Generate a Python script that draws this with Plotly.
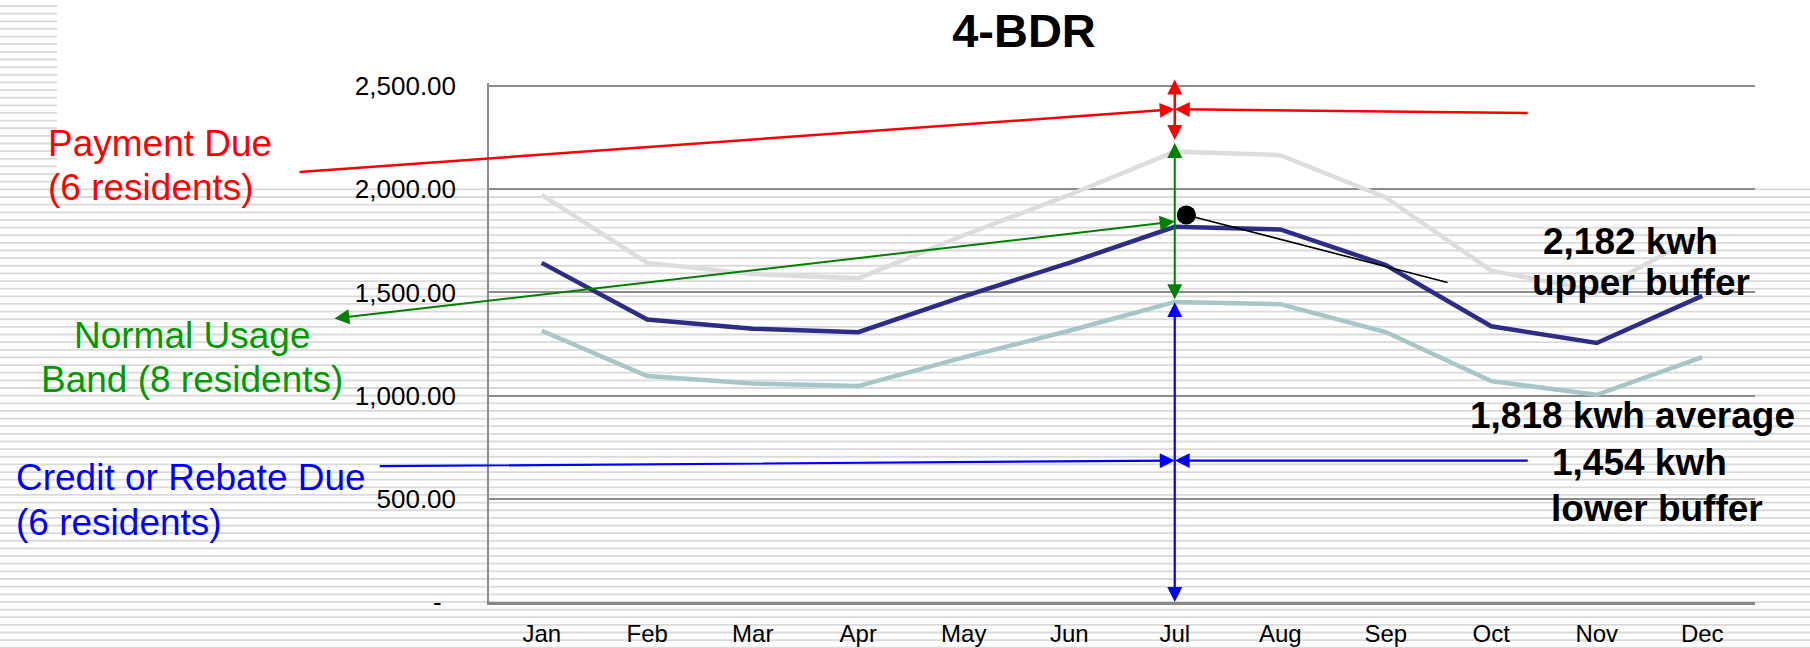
import plotly.graph_objects as go

# ---------------- data ----------------
months = ["Jan", "Feb", "Mar", "Apr", "May", "Jun", "Jul", "Aug", "Sep", "Oct", "Nov", "Dec"]
average_kwh = [1643, 1369, 1324, 1307, 1481, 1643, 1818, 1805, 1633, 1336, 1255, 1483]
upper_kwh = [1972, 1643, 1589, 1568, 1777, 1972, 2182, 2165, 1960, 1605, 1508, 1785]
lower_kwh = [1314, 1095, 1059, 1046, 1185, 1314, 1454, 1443, 1308, 1070, 1004, 1186]
y_tick_values = [0, 500, 1000, 1500, 2000, 2500]
y_tick_labels = ["-\u00a0\u00a0", "500.00", "1,000.00", "1,500.00", "2,000.00", "2,500.00"]
Y_MAX = 2514.5  # a hair above 2,500 so the top gridline is kept

# ---------------- geometry ----------------
FIG_W, FIG_H = 1810, 648
M_L, M_R, M_T, M_B = 489, 55, 83, 46
PW = FIG_W - M_L - M_R
PH = FIG_H - M_T - M_B


def xp(px):
    return (px - M_L) / PW


def yp(py):
    return (FIG_H - M_B - py) / PH


FONT = "Liberation Sans, Arial, sans-serif"

fig = go.Figure()
fig.add_trace(go.Scatter(x=months, y=upper_kwh, mode="lines", name="Upper buffer",
                         line=dict(color="#dddddd", width=4.5)))
fig.add_trace(go.Scatter(x=months, y=lower_kwh, mode="lines", name="Lower buffer",
                         line=dict(color="#a6c6c8", width=4.5)))
fig.add_trace(go.Scatter(x=months, y=average_kwh, mode="lines", name="Average",
                         line=dict(color="#2d2d86", width=4.5)))

# ---------------- background stripes ----------------
segs = []
n = 0
while True:
    y = 6 + 7.64 * n
    if y > FIG_H:
        break
    x1 = 57 if y < 183 else FIG_W
    segs.append(f"M{xp(0):.5f},{yp(y):.5f} L{xp(x1):.5f},{yp(y):.5f}")
    n += 1
shapes = [dict(type="path", xref="paper", yref="paper", path=" ".join(segs),
               line=dict(color="#dadada", width=1.8), layer="below")]

# ---------------- arrows ----------------
jul = months.index("Jul")
annotations = []


def arrow(x, y, ax, ay, color, width, size, head=2, both=False):
    d = dict(x=x, y=y, ax=ax, ay=ay, xref="x", yref="y", axref="x", ayref="y",
             text="", showarrow=True, arrowhead=head, arrowsize=size,
             arrowwidth=width, arrowcolor=color)
    if both:
        d.update(arrowside="end+start", startarrowhead=head, startarrowsize=size)
    annotations.append(d)


RED, GREEN, BLUE = "#ff0000", "#008000", "#0000ff"
# red (payment due)
arrow(jul, 2387, -2.31, 2083, RED, 2.5, 1.2)
arrow(jul, 2387, 9.36, 2369, RED, 2.5, 1.2)
arrow(jul, 2238, jul, 2539, RED, 2.5, 1.2, both=True)
# green (normal usage band)
arrow(jul, 1467, jul, 2231, GREEN, 2, 1.5, both=True)
arrow(jul, 1843, -1.98, 1373, GREEN, 2, 1.5, both=True)
# blue (credit or rebate)
arrow(jul, 0, jul, 1460, BLUE, 2.2, 1.36, both=True)
arrow(jul, 685, -1.55, 658, BLUE, 2.2, 1.36)
arrow(jul, 685, 9.36, 685, BLUE, 2.2, 1.36)
# black pointer to average
arrow(6.11, 1875, 8.6, 1546, "#000000", 1.6, 3.0, head=6)

# ---------------- texts ----------------


def label(text, px, py, color, anchor="left", bold=False, size=37):
    annotations.append(dict(
        text=f"<b>{text}</b>" if bold else text, x=xp(px), y=yp(py),
        xref="paper", yref="paper", xanchor=anchor, yanchor="middle",
        showarrow=False, font=dict(family=FONT, size=size, color=color)))


label("Payment Due", 46, 144, RED)
label("(6 residents)", 46, 187, RED)
label("Normal Usage", 192, 335, "#009900", anchor="center")
label("Band (8 residents)", 192, 379, "#009900", anchor="center")
label("Credit or Rebate Due", 14, 477, BLUE)
label("(6 residents)", 14, 522, BLUE)
label("2,182 kwh", 1630, 241, "#000000", anchor="center", bold=True)
label("upper buffer", 1641, 282, "#000000", anchor="center", bold=True)
label("1,818 kwh average", 1632, 415, "#000000", anchor="center", bold=True)
label("1,454 kwh", 1550, 462, "#000000", bold=True)
label("lower buffer", 1549, 508, "#000000", bold=True)

fig.update_layout(
    width=FIG_W, height=FIG_H,
    margin=dict(l=M_L, r=M_R, t=M_T, b=M_B, pad=0),
    paper_bgcolor="#ffffff", plot_bgcolor="rgba(0,0,0,0)",
    showlegend=False,
    title=dict(text="<b>4-BDR</b>", x=1024 / FIG_W, y=1 - 31 / FIG_H,
               xanchor="center", yanchor="middle",
               font=dict(family=FONT, size=47, color="#000000")),
    font=dict(family=FONT, color="#000000"),
    shapes=shapes, annotations=annotations,
    xaxis=dict(type="category", categoryarray=months, range=[-0.5, 11.5],
               showgrid=False, zeroline=False, showline=True, automargin=False,
               linecolor="#888888", linewidth=2.5, ticks="",
               tickfont=dict(size=24, family=FONT, color="#000000"),
               ticklabelstandoff=8, fixedrange=True),
    yaxis=dict(range=[0, Y_MAX], tickvals=y_tick_values, ticktext=y_tick_labels,
               showgrid=True, gridcolor="#8c8c8c", gridwidth=1.5, automargin=False,
               zeroline=False, showline=True, linecolor="#8c8c8c", linewidth=1.5,
               ticks="", tickfont=dict(size=26, family=FONT, color="#000000"),
               ticklabelstandoff=26, fixedrange=True),
)

fig.write_html("out.html", config={"displayModeBar": False},
               post_script="document.body.style.margin='0';")
